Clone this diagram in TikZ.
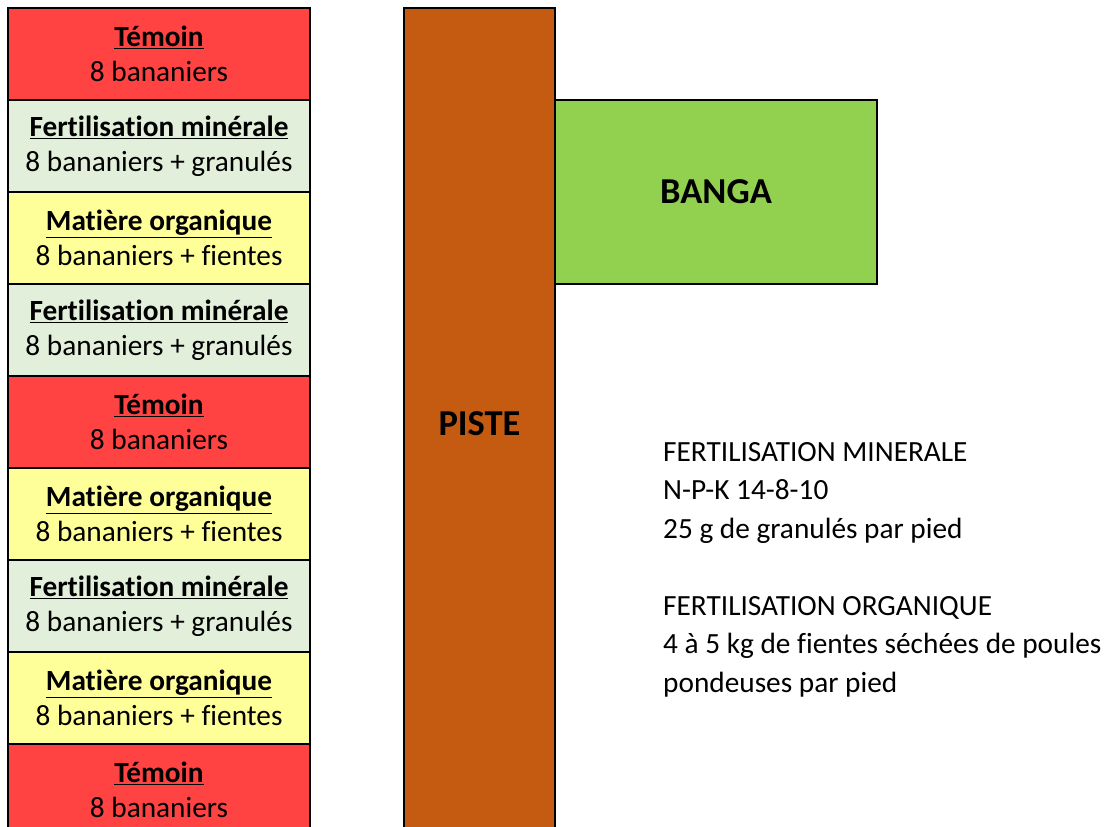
\documentclass[tikz,border=0pt]{standalone}
\usepackage{fontspec}
\setmainfont{Carlito}[Ligatures=NoCommon]
\definecolor{cRed}{HTML}{FF4343}
\definecolor{cMin}{HTML}{E2EFDA}
\definecolor{cOrg}{HTML}{FFFF99}
\definecolor{cPiste}{HTML}{C55A11}
\definecolor{cBanga}{HTML}{92D050}
\tikzset{
  plot/.style={draw=black, line width=2pt, minimum width=302pt, minimum height=92pt, inner sep=0pt, align=center, font=\fontsize{29.3}{35}\selectfont},
  bigbox/.style={draw=black, line width=2pt, inner sep=0pt, font=\fontsize{36.5}{40}\selectfont\bfseries},
}
\newcommand{\ttl}[1]{\textbf{\underline{#1}}}
\begin{document}
\begin{tikzpicture}[x=1pt,y=-1pt]
\useasboundingbox (0,0) rectangle (1117,827);
\clip (0,0) rectangle (1117,827);
\fill[white] (0,0) rectangle (1117,827);
\node[plot, fill=cRed] (t1) at (159,54) {\ttl{Témoin}\\8 bananiers};
\node[plot, fill=cMin] (t2) at (159,146) {\ttl{Fertilisation minérale}\\8 bananiers + granulés};
\node[plot, fill=cOrg] (t3) at (159,238) {\ttl{Matière organique}\\8 bananiers + fientes};
\node[plot, fill=cMin] (t4) at (159,330) {\ttl{Fertilisation minérale}\\8 bananiers + granulés};
\node[plot, fill=cRed] (t5) at (159,422) {\ttl{Témoin}\\8 bananiers};
\node[plot, fill=cOrg] (t6) at (159,514) {\ttl{Matière organique}\\8 bananiers + fientes};
\node[plot, fill=cMin] (t7) at (159,606) {\ttl{Fertilisation minérale}\\8 bananiers + granulés};
\node[plot, fill=cOrg] (t8) at (159,698) {\ttl{Matière organique}\\8 bananiers + fientes};
\node[plot, fill=cRed] (t9) at (159,790) {\ttl{Témoin}\\8 bananiers};
\node[bigbox, fill=cPiste, minimum width=151pt, minimum height=832pt] (piste) at (479.5,424) {PISTE};
\node[bigbox, fill=cBanga, minimum width=322pt, minimum height=184pt] (banga) at (716,192) {BANGA};
\node[anchor=base west, inner sep=0pt, align=left, font=\fontsize{29.3}{38.5}\selectfont] (legend) at (663,692)
 {FERTILISATION MINERALE\\N-P-K 14-8-10\\25 g de granulés par pied\\[38.5pt]FERTILISATION ORGANIQUE\\4 à 5 kg de fientes séchées de poules\\pondeuses par pied};
\end{tikzpicture}
\end{document}
